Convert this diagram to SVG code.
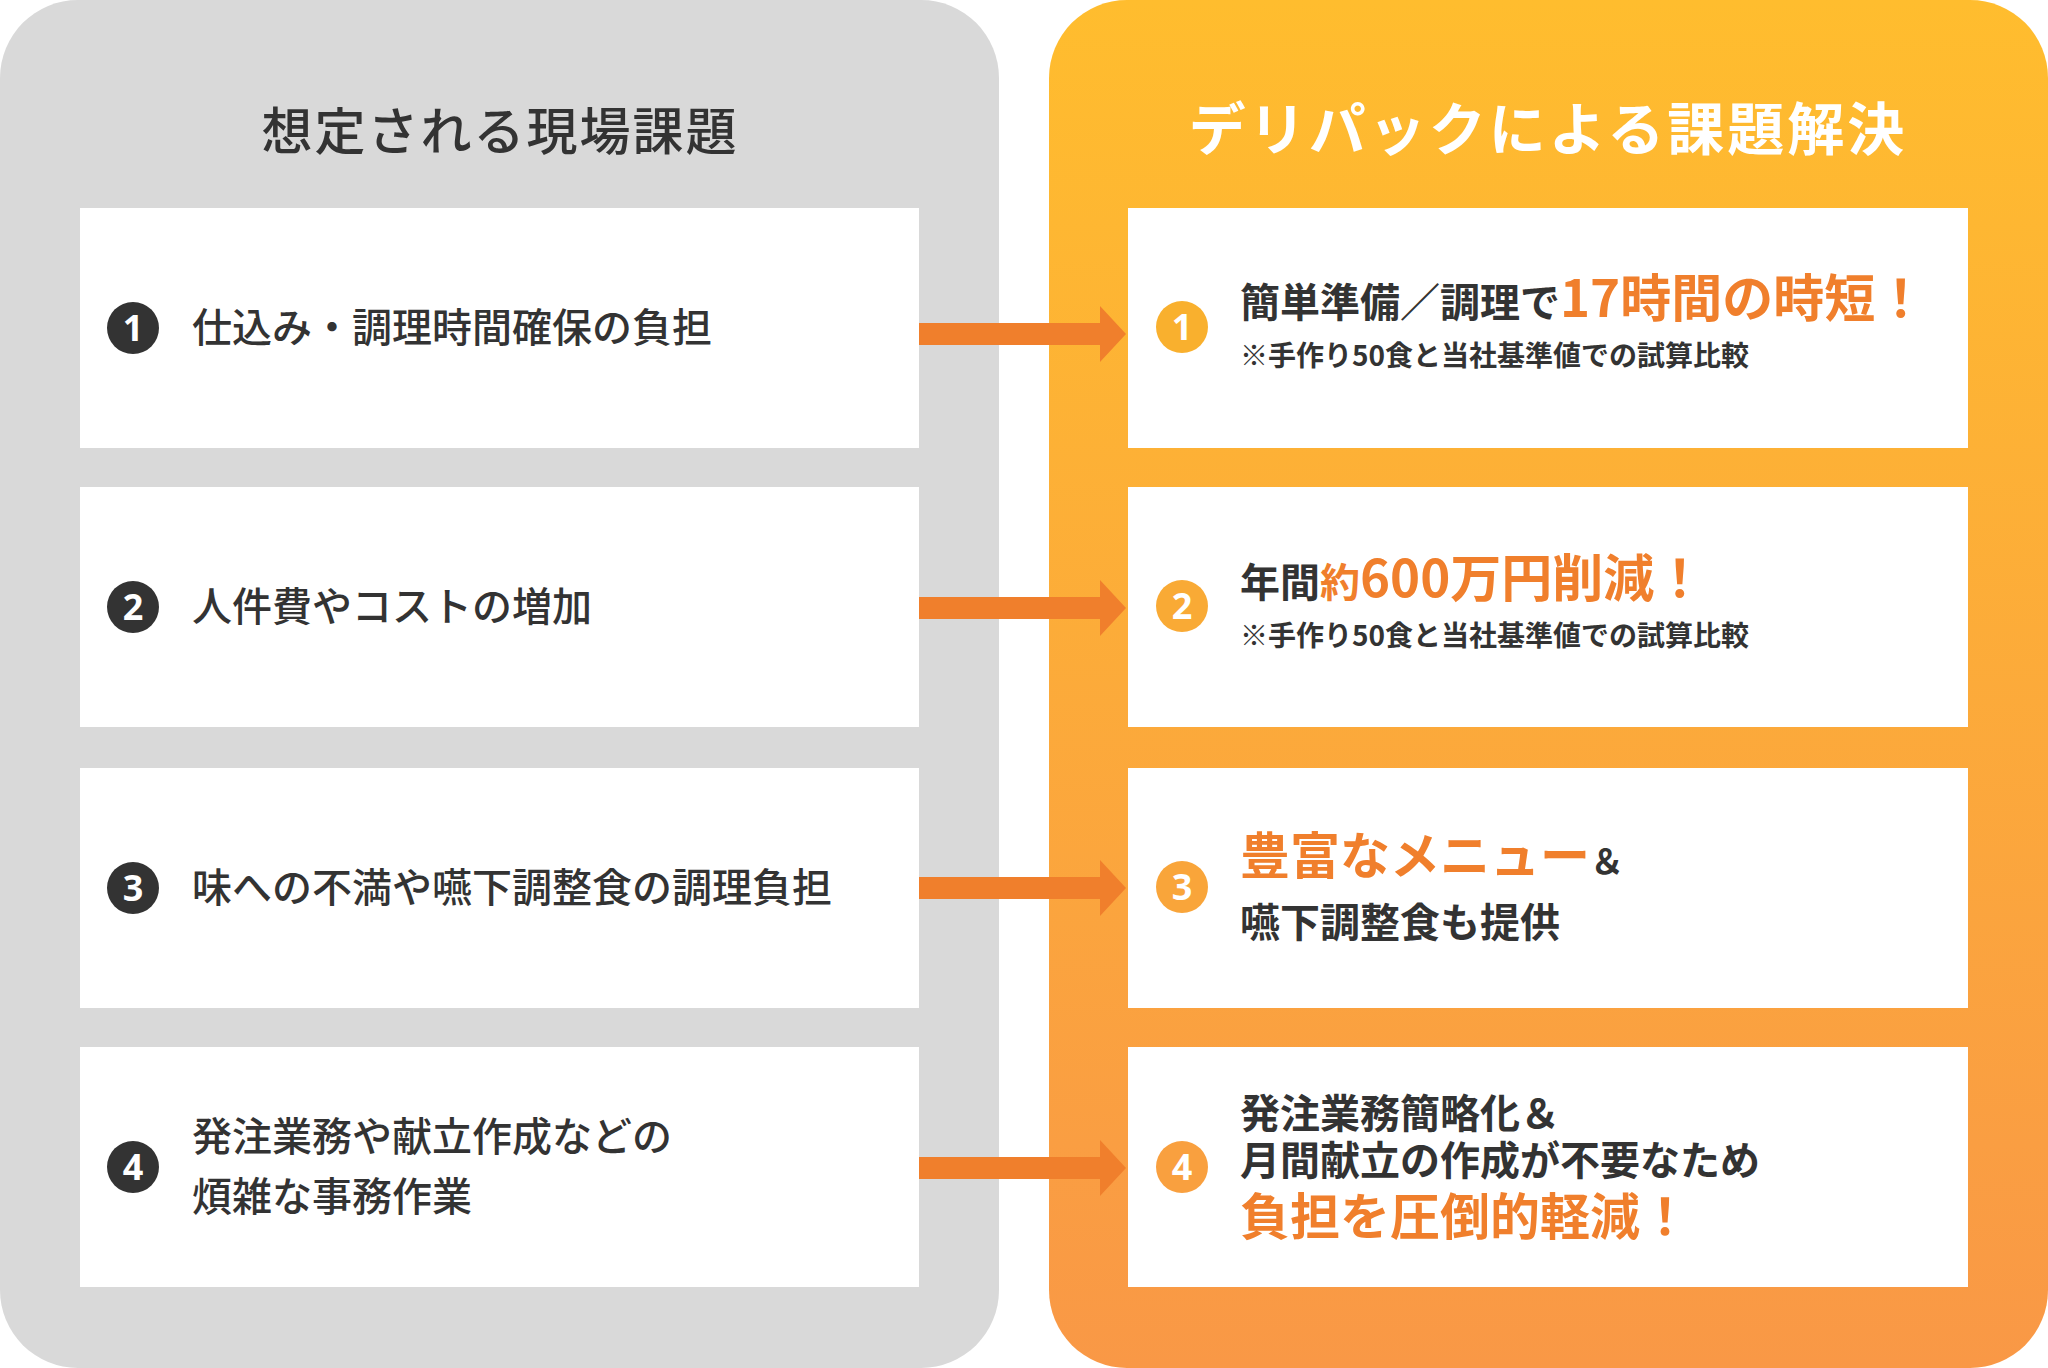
<svg xmlns="http://www.w3.org/2000/svg" width="2048" height="1368" viewBox="0 0 2048 1368">
<defs>
<linearGradient id="og" x1="0" y1="0" x2="0" y2="1"><stop offset="0" stop-color="#FFBD2E"/><stop offset="1" stop-color="#F99846"/></linearGradient>
<style>
.t{font-family:"Noto Sans CJK JP","Noto Sans",sans-serif;fill:#333}
.l{font-size:40px;font-weight:500}
.b{font-weight:700}
.o{fill:#F07F2C}
.box{fill:#fff}
.arr{fill:#F07F2C}
.nc{font-family:"Noto Sans",sans-serif;font-weight:700;font-size:36px;fill:#fff;text-anchor:middle}
</style>
</defs>
<rect x="0" y="0" width="999" height="1368" rx="78" fill="#D9D9D9"/>
<rect x="1049" y="0" width="999" height="1368" rx="78" fill="url(#og)"/>
<text class="t" x="500" y="150" font-size="51" font-weight="500" text-anchor="middle" letter-spacing="2">想定される現場課題</text>
<text class="t b" x="1548" y="150" font-size="57" text-anchor="middle" letter-spacing="3" fill="#fff" style="fill:#fff">デリパックによる課題解決</text>

<g id="p1"><rect class="box" x="80" y="208" width="839" height="240"/><circle cx="133" cy="328" r="26" fill="#333"/><text class="nc" x="133" y="341">1</text><text class="t l" x="192" y="342">仕込み・調理時間確保の負担</text></g>
<g id="p2"><rect class="box" x="80" y="487" width="839" height="240"/><circle cx="133" cy="607" r="26" fill="#333"/><text class="nc" x="133" y="620">2</text><text class="t l" x="192" y="621">人件費やコストの増加</text></g>
<g id="p3"><rect class="box" x="80" y="768" width="839" height="240"/><circle cx="133" cy="888" r="26" fill="#333"/><text class="nc" x="133" y="901">3</text><text class="t l" x="192" y="902">味への不満や嚥下調整食の調理負担</text></g>
<g id="p4"><rect class="box" x="80" y="1047" width="839" height="240"/><circle cx="133" cy="1167" r="26" fill="#333"/><text class="nc" x="133" y="1180">4</text><text class="t l" x="192" y="1151">発注業務や献立作成などの</text><text class="t l" x="192" y="1211">煩雑な事務作業</text></g>

<g id="s1"><rect class="box" x="1128" y="208" width="840" height="240"/><circle cx="1182" cy="327" r="26" fill="#F9B02E"/><text class="nc" x="1182" y="340">1</text>
<text class="t b" x="1240" y="317" font-size="40">簡単準備／調理で<tspan class="o" font-size="51">17時間の時短！</tspan></text>
<text class="t b" x="1240" y="366" font-size="28">※手作り50食と当社基準値での試算比較</text></g>
<g id="s2"><rect class="box" x="1128" y="487" width="840" height="240"/><circle cx="1182" cy="606" r="26" fill="#F9AA35"/><text class="nc" x="1182" y="619">2</text>
<text class="t b" x="1240" y="597" font-size="40">年間<tspan class="o">約</tspan><tspan class="o" font-size="51">600万円削減！</tspan></text>
<text class="t b" x="1240" y="646" font-size="28">※手作り50食と当社基準値での試算比較</text></g>
<g id="s3"><rect class="box" x="1128" y="768" width="840" height="240"/><circle cx="1182" cy="887" r="26" fill="#F9A53A"/><text class="nc" x="1182" y="900">3</text>
<text class="t b" x="1240" y="874" font-size="50"><tspan class="o">豊富なメニュー</tspan><tspan font-size="34">＆</tspan></text>
<text class="t b" x="1240" y="937" font-size="40">嚥下調整食も提供</text></g>
<g id="s4"><rect class="box" x="1128" y="1047" width="840" height="240"/><circle cx="1182" cy="1167" r="26" fill="#F9A03F"/><text class="nc" x="1182" y="1180">4</text>
<text class="t b" x="1240" y="1128" font-size="40">発注業務簡略化＆</text>
<text class="t b" x="1240" y="1175" font-size="40">月間献立の作成が不要なため</text>
<text class="t b o" x="1240" y="1235" font-size="50">負担を圧倒的軽減！</text></g>

<g id="connectors">
<polygon class="arr" points="919,323 1100,323 1100,306 1126,334 1100,362 1100,345 919,345"/>
<polygon class="arr" points="919,597 1100,597 1100,580 1126,608 1100,636 1100,619 919,619"/>
<polygon class="arr" points="919,877 1100,877 1100,860 1126,888 1100,916 1100,899 919,899"/>
<polygon class="arr" points="919,1157 1100,1157 1100,1140 1126,1168 1100,1196 1100,1179 919,1179"/>
</g>
</svg>
